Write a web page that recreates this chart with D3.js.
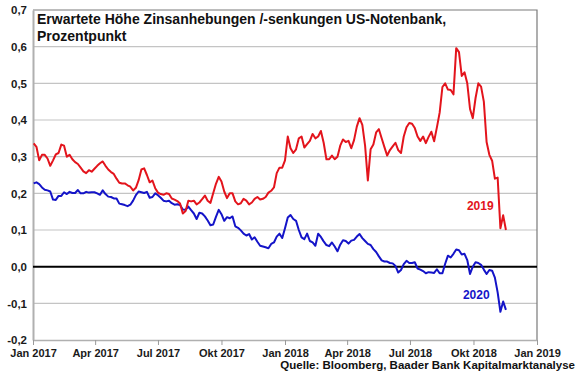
<!DOCTYPE html>
<html>
<head>
<meta charset="utf-8">
<script src="https://cdn.jsdelivr.net/npm/d3@7"></script>
<style>
  body { margin: 0; background: #fff; }
  text { font-family: Arial, "Liberation Sans", sans-serif; }
</style>
</head>
<body>
<div id="vizcontainer"></div>
<script>
// Erwartete Hoehe Zinsanhebungen, Werte alle 4 Tage ab 02.01.2017
const startDate = new Date(2017, 0, 2);
const stepDays = 4;

const values2019 = [
  0.336, 0.327, 0.290, 0.305, 0.305, 0.295, 0.275, 0.290, 0.306, 0.310,
  0.333, 0.330, 0.300, 0.305, 0.293, 0.285, 0.280, 0.270, 0.260, 0.255,
  0.263, 0.259, 0.267, 0.275, 0.282, 0.287, 0.275, 0.265, 0.258, 0.253,
  0.240, 0.229, 0.227, 0.227, 0.222, 0.218, 0.208, 0.215, 0.236, 0.265,
  0.268, 0.250, 0.230, 0.235, 0.214, 0.202, 0.198, 0.196, 0.200, 0.198,
  0.186, 0.183, 0.179, 0.172, 0.145, 0.152, 0.180, 0.178, 0.180, 0.170,
  0.175, 0.184, 0.194, 0.180, 0.174, 0.200, 0.226, 0.245, 0.232, 0.205,
  0.187, 0.200, 0.200, 0.178, 0.170, 0.173, 0.185, 0.180, 0.170, 0.175,
  0.185, 0.190, 0.183, 0.185, 0.190, 0.202, 0.207, 0.216, 0.255, 0.270,
  0.270, 0.290, 0.355, 0.323, 0.310, 0.320, 0.350, 0.355, 0.325, 0.334,
  0.343, 0.362, 0.350, 0.355, 0.370, 0.338, 0.293, 0.293, 0.303, 0.293,
  0.300, 0.330, 0.347, 0.340, 0.343, 0.323, 0.345, 0.382, 0.405, 0.387,
  0.330, 0.235, 0.320, 0.333, 0.366, 0.375, 0.350, 0.326, 0.303, 0.318,
  0.328, 0.338, 0.318, 0.310, 0.355, 0.380, 0.392, 0.390, 0.378, 0.355,
  0.343, 0.355, 0.337, 0.354, 0.368, 0.342, 0.380, 0.420, 0.490, 0.500,
  0.483, 0.482, 0.470, 0.596, 0.585, 0.520, 0.530, 0.500, 0.430, 0.405,
  0.460, 0.500, 0.491, 0.450, 0.340, 0.305, 0.289, 0.240, 0.243, 0.105,
  0.140, 0.100
];

const values2020 = [
  0.227, 0.230, 0.225, 0.216, 0.210, 0.208, 0.205, 0.183, 0.182, 0.193,
  0.193, 0.203, 0.198, 0.204, 0.201, 0.201, 0.209, 0.200, 0.200, 0.204,
  0.202, 0.203, 0.203, 0.200, 0.196, 0.208, 0.198, 0.191, 0.190, 0.186,
  0.186, 0.172, 0.170, 0.168, 0.165, 0.169, 0.180, 0.195, 0.205, 0.203,
  0.201, 0.204, 0.188, 0.190, 0.200, 0.195, 0.188, 0.180, 0.178, 0.180,
  0.173, 0.169, 0.170, 0.168, 0.156, 0.155, 0.164, 0.154, 0.145, 0.130,
  0.147, 0.145, 0.137, 0.126, 0.113, 0.115, 0.136, 0.155, 0.143, 0.125,
  0.135, 0.132, 0.137, 0.110, 0.106, 0.099, 0.090, 0.085, 0.089, 0.074,
  0.080, 0.068, 0.057, 0.055, 0.053, 0.050, 0.062, 0.066, 0.082, 0.090,
  0.078, 0.105, 0.134, 0.141, 0.130, 0.125, 0.100, 0.080, 0.075, 0.090,
  0.070, 0.066, 0.057, 0.090, 0.081, 0.069, 0.059, 0.056, 0.066, 0.055,
  0.042, 0.060, 0.072, 0.070, 0.063, 0.071, 0.073, 0.082, 0.089, 0.078,
  0.070, 0.062, 0.059, 0.048, 0.040, 0.028, 0.017, 0.014, 0.014, 0.010,
  0.009, 0.002, -0.016, -0.009, 0.007, 0.016, 0.010, 0.010, 0.012, -0.005,
  -0.008, -0.012, -0.018, -0.015, -0.016, -0.017, -0.007, -0.018, -0.018, 0.008,
  0.030, 0.025, 0.035, 0.047, 0.045, 0.033, 0.035, 0.018, -0.020, 0.000,
  0.012, 0.010, 0.005, -0.008, -0.020, -0.009, -0.011, -0.030, -0.070, -0.123,
  -0.095, -0.118
];

const dates = values2019.map((d, i) => d3.timeDay.offset(startDate, i * stepDays));

const yTicks = [-0.2, -0.1, 0, 0.1, 0.2, 0.3, 0.4, 0.5, 0.6, 0.7];
const xTicks = [
  new Date(2017, 0, 1), new Date(2017, 3, 1), new Date(2017, 6, 1),
  new Date(2017, 9, 1), new Date(2018, 0, 1), new Date(2018, 3, 1),
  new Date(2018, 6, 1), new Date(2018, 9, 1), new Date(2019, 0, 1)
];
const xTickLabels = ['Jan 2017', 'Apr 2017', 'Jul 2017', 'Okt 2017', 'Jan 2018',
  'Apr 2018', 'Jul 2018', 'Okt 2018', 'Jan 2019'];

const titleLines = ['Erwartete Höhe Zinsanhebungen /-senkungen US-Notenbank,', 'Prozentpunkt'];
const source = 'Quelle: Bloomberg, Baader Bank Kapitalmarktanalyse';

const width = 580,
  height = 375;
const margin = { top: 10, right: 43, bottom: 35, left: 33 };

const de = d3.formatLocale({ decimal: ',', thousands: '.', grouping: [3], currency: ['', ' €'], minus: '-' });
const fmt = de.format('.1f');

const svg = d3.select('#vizcontainer')
  .append('svg')
  .attr('width', width)
  .attr('height', height)
  .style('background', '#fff');

const x = d3.scaleTime()
  .domain([xTicks[0], xTicks[xTicks.length - 1]])
  .range([margin.left, width - margin.right]);

const y = d3.scaleLinear()
  .domain([-0.2, 0.7])
  .range([height - margin.bottom, margin.top]);

// gridlines
svg.append('g')
  .selectAll('line')
  .data(yTicks.filter(d => d > -0.2 && d < 0.7 && d !== 0))
  .join('line')
  .attr('x1', x.range()[0])
  .attr('x2', x.range()[1])
  .attr('y1', d => y(d))
  .attr('y2', d => y(d))
  .attr('stroke', '#c4c4c4')
  .attr('stroke-width', 1.2);

// frame top + right
svg.append('path')
  .attr('d', `M${x.range()[0]},${y(0.7)}H${x.range()[1]}V${y(-0.2)}`)
  .attr('fill', 'none')
  .attr('stroke', '#7a7a7a')
  .attr('stroke-width', 1.2);

// y axis
const yAxis = svg.append('g')
  .attr('transform', `translate(${margin.left},0)`)
  .call(d3.axisLeft(y).tickValues(yTicks).tickFormat(fmt).tickSize(0).tickPadding(6));
yAxis.select('.domain').attr('stroke', '#b0b0b0').attr('stroke-width', 2);
yAxis.selectAll('text')
  .attr('fill', '#1a1a1a')
  .style('font-size', '11.5px')
  .style('font-weight', 'bold');

// x axis
const xAxis = svg.append('g')
  .attr('transform', `translate(0,${y(-0.2)})`)
  .call(d3.axisBottom(x).tickValues(xTicks).tickFormat((d, i) => xTickLabels[i]).tickSize(5).tickSizeOuter(0).tickPadding(4));
xAxis.select('.domain').attr('stroke', '#b0b0b0').attr('stroke-width', 1.5);
xAxis.selectAll('.tick line').attr('stroke', '#9a9a9a');
xAxis.selectAll('text')
  .attr('fill', '#1a1a1a')
  .style('font-size', '11px')
  .style('font-weight', 'bold');

// zero line
svg.append('line')
  .attr('x1', x.range()[0])
  .attr('x2', x.range()[1])
  .attr('y1', y(0))
  .attr('y2', y(0))
  .attr('stroke', '#000')
  .attr('stroke-width', 2);

const line = d3.line()
  .x((d, i) => x(dates[i]))
  .y(d => y(d));

svg.append('path')
  .datum(values2020)
  .attr('d', line)
  .attr('fill', 'none')
  .attr('stroke', '#1414c8')
  .attr('stroke-width', 2)
  .attr('stroke-linejoin', 'round');

svg.append('path')
  .datum(values2019)
  .attr('d', line)
  .attr('fill', 'none')
  .attr('stroke', '#e3141c')
  .attr('stroke-width', 2)
  .attr('stroke-linejoin', 'round');

// series labels
svg.append('text')
  .attr('x', x(new Date(2018, 9, 5)) + 4)
  .attr('y', y(0.155))
  .attr('text-anchor', 'middle')
  .attr('fill', '#e3141c')
  .style('font-size', '12px')
  .style('font-weight', 'bold')
  .text('2019');

svg.append('text')
  .attr('x', x(new Date(2018, 9, 5)))
  .attr('y', y(-0.089))
  .attr('text-anchor', 'middle')
  .attr('fill', '#1414c8')
  .style('font-size', '12px')
  .style('font-weight', 'bold')
  .text('2020');

// title
svg.append('text')
  .attr('x', 37)
  .attr('y', 24)
  .style('font-size', '14px')
  .style('font-weight', 'bold')
  .attr('fill', '#111')
  .selectAll('tspan')
  .data(titleLines)
  .join('tspan')
  .attr('x', 37)
  .attr('dy', (d, i) => i ? 17 : 0)
  .text(d => d);

// source
svg.append('text')
  .attr('x', 575)
  .attr('y', 369)
  .attr('text-anchor', 'end')
  .style('font-size', '11.5px')
  .style('font-weight', 'bold')
  .attr('fill', '#111')
  .text(source);
</script>
</body>
</html>
